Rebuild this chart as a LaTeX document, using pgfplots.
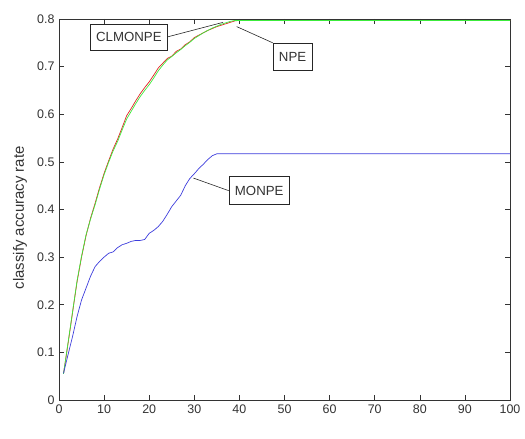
\documentclass[border=0pt]{standalone}
\usepackage{pgfplots}
\pgfplotsset{compat=1.18}
\usepackage{fontspec}
\setmainfont{Liberation Sans}
\definecolor{mred}{RGB}{225,35,35}
\definecolor{mgreen}{RGB}{60,235,60}
\definecolor{mblue}{RGB}{60,60,220}
\begin{document}
\begin{tikzpicture}
\begin{axis}[
  scale only axis,
  width=451bp, height=381bp,
  xmin=0, xmax=100, ymin=0, ymax=0.8,
  xtick={0,10,...,100},
  ytick={0,0.1,0.2,0.3,0.4,0.5,0.6,0.7,0.8},
  yticklabels={0,0.1,0.2,0.3,0.4,0.5,0.6,0.7,0.8},
  tick align=inside,
  major tick length=5bp,
  axis line style={black!80, line width=0.6pt},
  tick style={black!80, line width=0.6pt},
  /pgf/number format/assume math mode=true,
  tick label style={font=\fontsize{12.5}{14}\selectfont, text=black!80},
  xticklabel style={yshift=-1bp},
  yticklabel style={xshift=-1bp},
  clip=false,
]
% CLMONPE (red)
\addplot[mred, line width=0.7pt] coordinates {
(1,0.055) (2,0.118) (3,0.183) (4,0.248) (5,0.300) (6,0.345) (7,0.382) (8,0.413)
(9,0.446) (10,0.476) (11,0.502) (12,0.527) (13,0.548) (14,0.572) (15,0.597)
(16,0.612) (17,0.628) (18,0.643) (19,0.656) (20,0.668) (21,0.682) (22,0.697)
(23,0.707) (24,0.717) (25,0.722) (26,0.732) (27,0.737) (28,0.746) (29,0.752)
(30,0.761) (31,0.766) (32,0.771) (33,0.776) (34,0.780) (35,0.784) (36,0.787)
(37,0.790) (38,0.793) (39,0.796) (40,0.797) (100,0.797)};
% NPE (green)
\addplot[mgreen, line width=0.7pt] coordinates {
(1,0.055) (2,0.120) (3,0.185) (4,0.250) (5,0.302) (6,0.347) (7,0.380) (8,0.410)
(9,0.443) (10,0.473) (11,0.499) (12,0.523) (13,0.543) (14,0.567) (15,0.590)
(16,0.606) (17,0.622) (18,0.637) (19,0.650) (20,0.662) (21,0.676) (22,0.691)
(23,0.703) (24,0.714) (25,0.721) (26,0.729) (27,0.736) (28,0.744) (29,0.751)
(30,0.759) (31,0.765) (32,0.771) (33,0.776) (34,0.781) (35,0.785) (36,0.789)
(37,0.792) (38,0.795) (39,0.797) (40,0.797) (100,0.797)};
% MONPE (blue)
\addplot[mblue, line width=0.7pt] coordinates {
(1,0.056) (2,0.095) (3,0.133) (4,0.175) (5,0.210) (6,0.235) (7,0.260) (8,0.280)
(9,0.291) (10,0.300) (11,0.308) (12,0.311) (13,0.320) (14,0.326) (15,0.329)
(16,0.333) (17,0.335) (18,0.335) (19,0.337) (20,0.350) (21,0.356) (22,0.364)
(23,0.375) (24,0.390) (25,0.406) (26,0.418) (27,0.430) (28,0.450) (29,0.465)
(30,0.475) (31,0.486) (32,0.495) (33,0.505) (34,0.513) (35,0.517) (100,0.517)};

\coordinate (bl) at (rel axis cs:0,0);
\coordinate (tr) at (rel axis cs:1,1);

\node[draw=black!85, fill=white, inner xsep=6bp, inner ysep=0pt, minimum height=26bp,
  font=\fontsize{13.3}{15}\selectfont, text=black!80] (clm) at (axis cs:15.5,0.7626) {CLMONPE};
\draw[black!85, line width=0.6pt] (clm.east) -- (axis cs:36.4,0.793);

\node[draw=black!85, fill=white, inner xsep=6bp, inner ysep=0pt, minimum height=27.5bp,
  font=\fontsize{13.3}{15}\selectfont, text=black!80] (npe) at (axis cs:51.8,0.7206) {NPE};
\draw[black!85, line width=0.6pt] (npe.north west) -- (axis cs:39.4,0.784);

\node[draw=black!85, fill=white, inner xsep=6bp, inner ysep=0pt, minimum height=28bp,
  font=\fontsize{13.3}{15}\selectfont, text=black!80] (mon) at (axis cs:44.4,0.4395) {MONPE};
\draw[black!85, line width=0.6pt] (mon.west) -- (axis cs:29.8,0.466);

\node[rotate=90, font=\fontsize{15}{17}\selectfont, text=black!80] at (rel axis cs:-0.0865,0.478) {classify accuracy rate};
\end{axis}
\pgfresetboundingbox
\path[use as bounding box] ([shift={(-59bp,-39bp)}]bl) rectangle ([shift={(15bp,19bp)}]tr);
\end{tikzpicture}
\end{document}
